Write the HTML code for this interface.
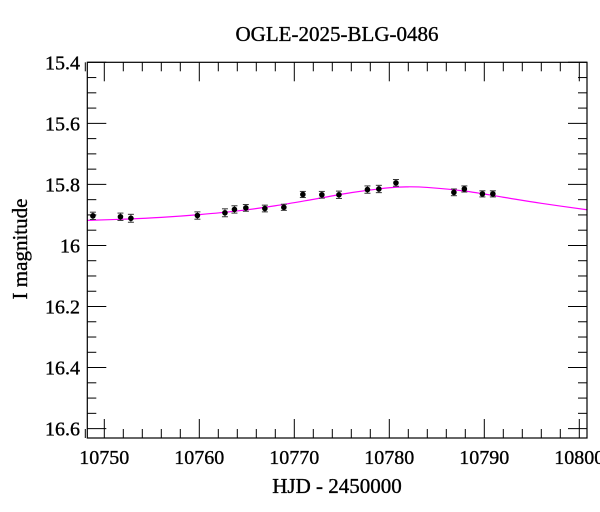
<!DOCTYPE html>
<html><head><meta charset="utf-8"><style>
body{margin:0;background:#fff;}
svg{display:block;font-family:"Liberation Serif",serif;}
svg text{stroke:#000;stroke-width:0.35;}
</style></head><body>
<svg id="chart" width="600" height="512" viewBox="0 0 600 512" xmlns="http://www.w3.org/2000/svg">
<text x="337" y="41" text-anchor="middle" font-size="21">OGLE-2025-BLG-0486</text>
<text x="337" y="493" text-anchor="middle" font-size="21">HJD - 2450000</text>
<text transform="translate(27,249) rotate(-90)" text-anchor="middle" font-size="21">I magnitude</text>
<g id="ticks"></g><g id="labels"></g><g id="model"></g><g id="points"></g>
<rect x="87.3" y="62.3" width="499.7" height="375.7" fill="none" stroke="#000" stroke-width="1.2"/>
</svg>
<script>
const obsT=[10748.8,10751.7,10752.8,10759.8,10762.7,10763.7,10764.9,10766.9,10768.9,10770.9,10772.9,10774.7,10777.7,10778.9,10780.7,10786.8,10787.9,10789.8,10790.9];
const obsMag=[15.903,15.906,15.911,15.902,15.893,15.882,15.877,15.879,15.875,15.833,15.834,15.834,15.817,15.815,15.795,15.826,15.815,15.831,15.831];
const obsErr=[0.012,0.012,0.013,0.012,0.013,0.012,0.011,0.011,0.01,0.01,0.011,0.012,0.012,0.012,0.011,0.011,0.01,0.01,0.01];
const modelT=[10748,10752,10756,10760,10764,10768,10772,10776,10780,10782,10784,10788,10792,10796,10801];
const modelMag=[15.918,15.914,15.908,15.899,15.887,15.870,15.849,15.827,15.811,15.808,15.810,15.822,15.842,15.862,15.884];
const xTicks=[10750,10760,10770,10780,10790,10800];
const yTicks=[15.4,15.6,15.8,16,16.2,16.4,16.6];
const NS='http://www.w3.org/2000/svg';
const L=87.3,R=587,T=62.3,B=438;
const X=t=>104.3+(t-10750)*9.5;
const Y=m=>62.3+(m-15.4)*305.25;
function mk(tag,attrs,parent){const e=document.createElementNS(NS,tag);for(const k in attrs)e.setAttribute(k,attrs[k]);parent.appendChild(e);return e;}
const tg=document.getElementById('ticks'),lg=document.getElementById('labels');
for(let t=10748;t<=10800;t+=2){const x=X(t);const len=(t%10===0)?19:9;
 const a=mk('line',{x1:x,x2:x,y1:B,y2:B-len,stroke:'#000'},tg);
 
 
 const b=mk('line',{x1:x,x2:x,y1:T,y2:T+len,stroke:'#000'},tg);
 
 }
for(let i=0;i<=24;i++){const m=15.4+i*0.05;const y=Y(m);const len=(i%4===0)?19:9;
 const a=mk('line',{x1:L,x2:L+len,y1:y,y2:y,stroke:'#000'},tg);
 
 
 const b=mk('line',{x1:R,x2:R-len,y1:y,y2:y,stroke:'#000'},tg);
 
 }
xTicks.forEach(t=>{const e=mk('text',{x:X(t),y:464,'text-anchor':'middle','font-size':20},lg);e.textContent=t;
 
 });
yTicks.forEach(m=>{const e=mk('text',{x:80,y:Y(m)+7,'text-anchor':'end','font-size':20},lg);e.textContent=String(m);
 
 });
const pts=modelT.map((t,i)=>[X(t),Y(modelMag[i])]);
let d='M'+pts[0][0]+','+pts[0][1];
for(let i=0;i<pts.length-1;i++){const p0=pts[Math.max(i-1,0)],p1=pts[i],p2=pts[i+1],p3=pts[Math.min(i+2,pts.length-1)];
 d+=` C${p1[0]+(p2[0]-p0[0])/6},${p1[1]+(p2[1]-p0[1])/6} ${p2[0]-(p3[0]-p1[0])/6},${p2[1]-(p3[1]-p1[1])/6} ${p2[0]},${p2[1]}`;}
const mg=document.getElementById('model');
mk('clipPath',{id:'clip'},mg).appendChild(document.createElementNS(NS,'rect'));
const cr=mg.querySelector('#clip rect');cr.setAttribute('x',L);cr.setAttribute('y',T);cr.setAttribute('width',R-L);cr.setAttribute('height',B-T);
const path=mk('path',{d:d,fill:'none',stroke:'#ff00ff','stroke-width':1.2,'clip-path':'url(#clip)'},mg);


const pg=document.getElementById('points');
obsT.forEach((t,i)=>{const x=X(t),y=Y(obsMag[i]),e=obsErr[i]*305.25;
 const g=mk('g',{},pg);
 
 
 mk('line',{x1:x,x2:x,y1:y-e,y2:y+e,stroke:'#333','stroke-width':1},g);
 mk('line',{x1:x-3,x2:x+3,y1:y-e,y2:y-e,stroke:'#333','stroke-width':1},g);
 mk('line',{x1:x-3,x2:x+3,y1:y+e,y2:y+e,stroke:'#333','stroke-width':1},g);
 mk('circle',{cx:x,cy:y,r:2.8,fill:'#000'},g);});
</script>
</body></html>
